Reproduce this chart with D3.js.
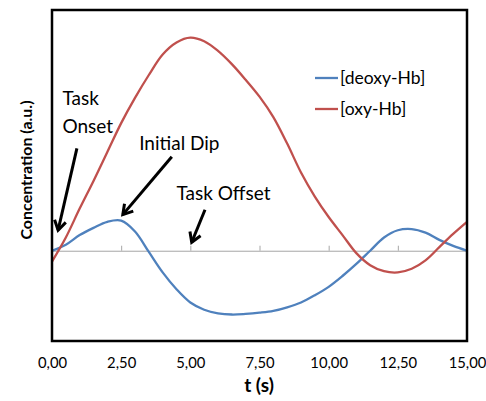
<!DOCTYPE html>
<meta charset="utf-8">
<script src="https://d3js.org/d3.v7.min.js"></script>
<style>
  body { margin: 0; background: #fff; }
  text { font-family: Lato, "Open Sans", sans-serif; }
</style>
<div id="my_dataviz"></div>
<script>

    // data (time in s, concentration in a.u.)
    var times = [0, 0.5, 1, 1.5, 2, 2.5, 3, 3.5, 4, 4.5, 5, 5.5, 6, 6.5, 7, 7.5,
                 8, 8.5, 9, 9.5, 10, 10.5, 11, 11.5, 12, 12.5, 13, 13.5, 14, 14.5, 15];
    var deoxy = [0.00, 0.05, 0.13, 0.19, 0.24, 0.25, 0.16, -0.01, -0.18, -0.32, -0.43, -0.49,
                 -0.52, -0.53, -0.525, -0.515, -0.50, -0.47, -0.43, -0.37, -0.30, -0.21, -0.11,
                 0.00, 0.11, 0.17, 0.18, 0.15, 0.09, 0.04, 0.00];
    var oxy = [-0.09, 0.11, 0.35, 0.58, 0.82, 1.06, 1.27, 1.46, 1.63, 1.73, 1.77, 1.74,
               1.66, 1.55, 1.42, 1.28, 1.11, 0.89, 0.65, 0.45, 0.28, 0.13, -0.02,
               -0.12, -0.17, -0.18, -0.15, -0.08, 0.03, 0.14, 0.24];
    var seriesNames = ["[deoxy-Hb]", "[oxy-Hb]"];
    var xTicks = [0, 2.5, 5, 7.5, 10, 12.5, 15];

    // annotations: label lines, arrow start and tip (in data units)
    var notes = [
        {lines: ["Task", "Onset"], tx: 0.38, ty: [1.21, 0.98], from: [0.9, 0.85], to: [0.22, 0.17]},
        {lines: ["Initial Dip"], tx: 3.15, ty: [0.84], from: [4.33, 0.78], to: [2.56, 0.30]},
        {lines: ["Task Offset"], tx: 4.5, ty: [0.42], from: [5.53, 0.34], to: [5.05, 0.07]}
    ];

    var margin = {top: 10, right: 19, bottom: 60, left: 52},
        width = 486 - margin.left - margin.right,
        height = 401 - margin.top - margin.bottom;

    var svg = d3.select("#my_dataviz")
        .append("svg")
        .attr("width", 486)
        .attr("height", 401)
        .append("g")
        .attr("transform", "translate(" + margin.left + "," + margin.top + ")");

    var x = d3.scaleLinear().domain([0, 15]).range([0, width]);
    var y = d3.scaleLinear().domain([-0.75, 2.0]).range([height, 0]);

    // zero line with small ticks
    var zeroAxis = svg.append("g")
        .attr("transform", "translate(0," + y(0) + ")")
        .call(d3.axisTop(x).tickValues(xTicks).tickSize(5).tickSizeOuter(0).tickFormat(""));
    zeroAxis.selectAll("path, line").attr("stroke", "#a6a6a6");

    // tick labels below the frame
    var fmt = d3.format(".2f");
    var xAxis = svg.append("g")
        .attr("transform", "translate(0," + height + ")")
        .call(d3.axisBottom(x).tickValues(xTicks).tickSize(0).tickPadding(16)
            .tickFormat(function(d) { return fmt(d).replace(".", ","); }));
    xAxis.select(".domain").remove();
    xAxis.selectAll("text")
        .style("font-family", "Lato, sans-serif")
        .style("font-size", "14.8px")
        .attr("fill", "#000");

    // lines
    var line = d3.line()
        .curve(d3.curveCatmullRom.alpha(0.5))
        .x(function(d, i) { return x(times[i]); })
        .y(function(d) { return y(d); });

    var colors = ["#4f81bd", "#c0504d"];
    [deoxy, oxy].forEach(function(s, k) {
        svg.append("path")
            .datum(s)
            .attr("fill", "none")
            .attr("stroke", colors[k])
            .attr("stroke-width", 2.3)
            .attr("d", line);
    });

    // frame
    svg.append("rect")
        .attr("x", 0).attr("y", 0)
        .attr("width", width).attr("height", height)
        .attr("fill", "none")
        .attr("stroke", "#000")
        .attr("stroke-width", 2.5);

    // legend
    var legend = svg.append("g").attr("transform", "translate(263,68)");
    seriesNames.forEach(function(name, i) {
        legend.append("line")
            .attr("x1", 0).attr("x2", 23)
            .attr("y1", i * 31).attr("y2", i * 31)
            .attr("stroke", colors[i]).attr("stroke-width", 2.3);
        legend.append("text")
            .attr("x", 25).attr("y", i * 31 + 6)
            .style("font-size", "17.5px")
            .text(name);
    });

    // annotations with arrows
    notes.forEach(function(n) {
        n.lines.forEach(function(l, j) {
            svg.append("text")
                .attr("x", x(n.tx)).attr("y", y(n.ty[j]))
                .style("font-size", "19px")
                .text(l);
        });
        var x1 = x(n.from[0]), y1 = y(n.from[1]), x2 = x(n.to[0]), y2 = y(n.to[1]);
        var ang = Math.atan2(y2 - y1, x2 - x1), h = 11, spread = 0.55;
        svg.append("line")
            .attr("x1", x1).attr("y1", y1).attr("x2", x2).attr("y2", y2)
            .attr("stroke", "#000").attr("stroke-width", 3);
        svg.append("path")
            .attr("d", "M" + (x2 - h * Math.cos(ang - spread)) + "," + (y2 - h * Math.sin(ang - spread)) +
                "L" + x2 + "," + y2 +
                "L" + (x2 - h * Math.cos(ang + spread)) + "," + (y2 - h * Math.sin(ang + spread)))
            .attr("fill", "none").attr("stroke", "#000").attr("stroke-width", 3)
            .attr("stroke-linejoin", "miter");
    });

    // axis titles
    svg.append("text")
        .attr("text-anchor", "middle")
        .attr("x", 207)
        .attr("y", height + 51)
        .style("font-size", "19px").style("font-weight", "bold")
        .text("t (s)");

    svg.append("text")
        .attr("text-anchor", "middle")
        .attr("transform", "rotate(-90)")
        .attr("x", -160)
        .attr("y", -20)
        .style("font-size", "16px").style("font-weight", "bold")
        .text("Concentration (a.u.)");

</script>
